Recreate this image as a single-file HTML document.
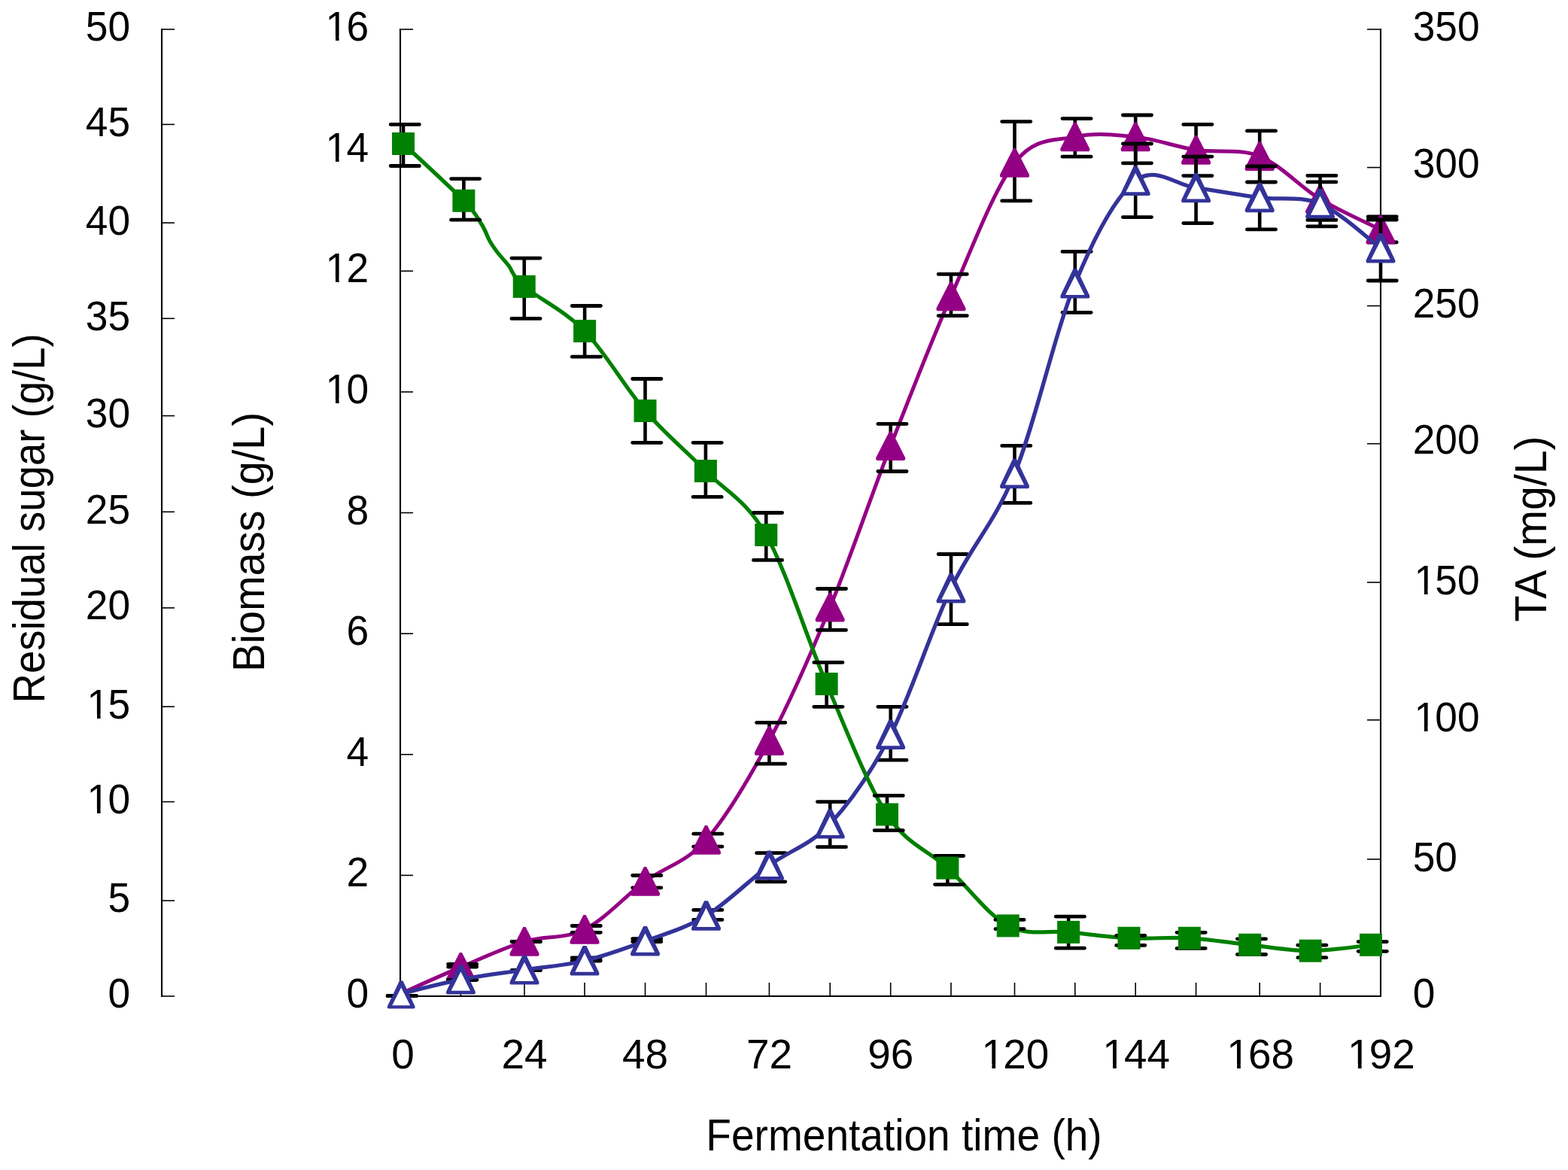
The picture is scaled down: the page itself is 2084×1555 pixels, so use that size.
<!DOCTYPE html>
<html><head><meta charset="utf-8"><title>Fermentation chart</title>
<style>html,body{margin:0;padding:0;background:#fff;}svg{display:block;}text{font-family:"Liberation Sans", Arial, sans-serif;font-size:53.8px;fill:#000;}.eb line{stroke:#000;stroke-width:4.6;stroke-linecap:butt;}.eb line.cap{stroke-width:4.8;stroke-linecap:round;}</style></head><body>
<svg width="2084" height="1555" viewBox="0 0 2084 1555">
<rect x="0" y="0" width="2084" height="1555" fill="#fff"/>
<g stroke="#000" fill="none">
<line x1="215" y1="38" x2="215" y2="1325" stroke-width="2.1"/>
<line x1="214" y1="39" x2="232" y2="39" stroke-width="1.6"/>
<line x1="214" y1="165.4" x2="232" y2="165.4" stroke-width="1.6"/>
<line x1="214" y1="296.2" x2="232" y2="296.2" stroke-width="1.6"/>
<line x1="214" y1="423.3" x2="232" y2="423.3" stroke-width="1.6"/>
<line x1="214" y1="552.6" x2="232" y2="552.6" stroke-width="1.6"/>
<line x1="214" y1="680.3" x2="232" y2="680.3" stroke-width="1.6"/>
<line x1="214" y1="807.9" x2="232" y2="807.9" stroke-width="1.6"/>
<line x1="214" y1="939.2" x2="232" y2="939.2" stroke-width="1.6"/>
<line x1="214" y1="1065.6" x2="232" y2="1065.6" stroke-width="1.6"/>
<line x1="214" y1="1197" x2="232" y2="1197" stroke-width="1.6"/>
<line x1="214" y1="1324" x2="232" y2="1324" stroke-width="1.6"/>
<line x1="532" y1="38" x2="532" y2="1325" stroke-width="2.1"/>
<line x1="531" y1="39" x2="549" y2="39" stroke-width="1.6"/>
<line x1="531" y1="199.62" x2="549" y2="199.62" stroke-width="1.6"/>
<line x1="531" y1="360.25" x2="549" y2="360.25" stroke-width="1.6"/>
<line x1="531" y1="520.88" x2="549" y2="520.88" stroke-width="1.6"/>
<line x1="531" y1="681.5" x2="549" y2="681.5" stroke-width="1.6"/>
<line x1="531" y1="842.12" x2="549" y2="842.12" stroke-width="1.6"/>
<line x1="531" y1="1002.75" x2="549" y2="1002.75" stroke-width="1.6"/>
<line x1="531" y1="1163.38" x2="549" y2="1163.38" stroke-width="1.6"/>
<line x1="531" y1="1324" x2="549" y2="1324" stroke-width="1.6"/>
<line x1="1835" y1="38" x2="1835" y2="1325" stroke-width="2.1"/>
<line x1="1817" y1="39" x2="1836" y2="39" stroke-width="1.6"/>
<line x1="1817" y1="222.6" x2="1836" y2="222.6" stroke-width="1.6"/>
<line x1="1817" y1="406.5" x2="1836" y2="406.5" stroke-width="1.6"/>
<line x1="1817" y1="589.7" x2="1836" y2="589.7" stroke-width="1.6"/>
<line x1="1817" y1="774" x2="1836" y2="774" stroke-width="1.6"/>
<line x1="1817" y1="956.9" x2="1836" y2="956.9" stroke-width="1.6"/>
<line x1="1817" y1="1142" x2="1836" y2="1142" stroke-width="1.6"/>
<line x1="1817" y1="1324" x2="1836" y2="1324" stroke-width="1.6"/>
<line x1="531" y1="1324" x2="1836" y2="1324" stroke-width="2.1"/>
<line x1="612.4" y1="1306" x2="612.4" y2="1324" stroke-width="1.6"/>
<line x1="697" y1="1306" x2="697" y2="1324" stroke-width="1.6"/>
<line x1="777" y1="1306" x2="777" y2="1324" stroke-width="1.6"/>
<line x1="857.5" y1="1306" x2="857.5" y2="1324" stroke-width="1.6"/>
<line x1="938.5" y1="1306" x2="938.5" y2="1324" stroke-width="1.6"/>
<line x1="1022.4" y1="1306" x2="1022.4" y2="1324" stroke-width="1.6"/>
<line x1="1103.2" y1="1306" x2="1103.2" y2="1324" stroke-width="1.6"/>
<line x1="1183.7" y1="1306" x2="1183.7" y2="1324" stroke-width="1.6"/>
<line x1="1264" y1="1306" x2="1264" y2="1324" stroke-width="1.6"/>
<line x1="1348.5" y1="1306" x2="1348.5" y2="1324" stroke-width="1.6"/>
<line x1="1428.8" y1="1306" x2="1428.8" y2="1324" stroke-width="1.6"/>
<line x1="1509.2" y1="1306" x2="1509.2" y2="1324" stroke-width="1.6"/>
<line x1="1589.6" y1="1306" x2="1589.6" y2="1324" stroke-width="1.6"/>
<line x1="1674.2" y1="1306" x2="1674.2" y2="1324" stroke-width="1.6"/>
<line x1="1754.6" y1="1306" x2="1754.6" y2="1324" stroke-width="1.6"/>
</g>
<g>
<g transform="translate(173,54.3) scale(0.99,1.035)">
<text x="-59.84" y="0">50</text>
</g>
<g transform="translate(173,180.7) scale(0.99,1.035)">
<text x="-59.84" y="0">45</text>
</g>
<g transform="translate(173,311.5) scale(0.99,1.035)">
<text x="-59.84" y="0">40</text>
</g>
<g transform="translate(173,438.6) scale(0.99,1.035)">
<text x="-59.84" y="0">35</text>
</g>
<g transform="translate(173,567.9) scale(0.99,1.035)">
<text x="-59.84" y="0">30</text>
</g>
<g transform="translate(173,695.6) scale(0.99,1.035)">
<text x="-59.84" y="0">25</text>
</g>
<g transform="translate(173,823.2) scale(0.99,1.035)">
<text x="-59.84" y="0">20</text>
</g>
<g transform="translate(173,954.5) scale(0.99,1.035)">
<text x="-59.84" y="0"><tspan dx="1.8">1</tspan><tspan dx="-1.8">5</tspan></text>
<rect x="-54.8" y="-5.32" width="10.34" height="6.32" fill="#fff"/>
<rect x="-39.81" y="-5.32" width="9.92" height="6.32" fill="#fff"/>
</g>
<g transform="translate(173,1080.9) scale(0.99,1.035)">
<text x="-59.84" y="0"><tspan dx="1.8">1</tspan><tspan dx="-1.8">0</tspan></text>
<rect x="-54.8" y="-5.32" width="10.34" height="6.32" fill="#fff"/>
<rect x="-39.81" y="-5.32" width="9.92" height="6.32" fill="#fff"/>
</g>
<g transform="translate(173,1212.3) scale(0.99,1.035)">
<text x="-29.92" y="0">5</text>
</g>
<g transform="translate(173,1339.3) scale(0.99,1.035)">
<text x="-29.92" y="0">0</text>
</g>
<g transform="translate(490,54) scale(0.99,1.035)">
<text x="-59.84" y="0"><tspan dx="1.8">1</tspan><tspan dx="-1.8">6</tspan></text>
<rect x="-54.8" y="-5.32" width="10.34" height="6.32" fill="#fff"/>
<rect x="-39.81" y="-5.32" width="9.92" height="6.32" fill="#fff"/>
</g>
<g transform="translate(490,214.62) scale(0.99,1.035)">
<text x="-59.84" y="0"><tspan dx="1.8">1</tspan><tspan dx="-1.8">4</tspan></text>
<rect x="-54.8" y="-5.32" width="10.34" height="6.32" fill="#fff"/>
<rect x="-39.81" y="-5.32" width="9.92" height="6.32" fill="#fff"/>
</g>
<g transform="translate(490,375.25) scale(0.99,1.035)">
<text x="-59.84" y="0"><tspan dx="1.8">1</tspan><tspan dx="-1.8">2</tspan></text>
<rect x="-54.8" y="-5.32" width="10.34" height="6.32" fill="#fff"/>
<rect x="-39.81" y="-5.32" width="9.92" height="6.32" fill="#fff"/>
</g>
<g transform="translate(490,535.88) scale(0.99,1.035)">
<text x="-59.84" y="0"><tspan dx="1.8">1</tspan><tspan dx="-1.8">0</tspan></text>
<rect x="-54.8" y="-5.32" width="10.34" height="6.32" fill="#fff"/>
<rect x="-39.81" y="-5.32" width="9.92" height="6.32" fill="#fff"/>
</g>
<g transform="translate(490,696.5) scale(0.99,1.035)">
<text x="-29.92" y="0">8</text>
</g>
<g transform="translate(490,857.12) scale(0.99,1.035)">
<text x="-29.92" y="0">6</text>
</g>
<g transform="translate(490,1017.75) scale(0.99,1.035)">
<text x="-29.92" y="0">4</text>
</g>
<g transform="translate(490,1178.38) scale(0.99,1.035)">
<text x="-29.92" y="0">2</text>
</g>
<g transform="translate(490,1339) scale(0.99,1.035)">
<text x="-29.92" y="0">0</text>
</g>
<g transform="translate(1877.7,54) scale(0.99,1.035)">
<text x="0" y="0">350</text>
</g>
<g transform="translate(1877.7,236.07) scale(0.99,1.035)">
<text x="0" y="0">300</text>
</g>
<g transform="translate(1877.7,422.34) scale(0.99,1.035)">
<text x="0" y="0">250</text>
</g>
<g transform="translate(1877.7,603.11) scale(0.99,1.035)">
<text x="0" y="0">200</text>
</g>
<g transform="translate(1877.7,789.68) scale(0.99,1.035)">
<text x="0" y="0"><tspan dx="1.8">1</tspan><tspan dx="-1.8">5</tspan>0</text>
<rect x="5.04" y="-5.32" width="10.34" height="6.32" fill="#fff"/>
<rect x="20.03" y="-5.32" width="9.92" height="6.32" fill="#fff"/>
</g>
<g transform="translate(1877.7,971.86) scale(0.99,1.035)">
<text x="0" y="0"><tspan dx="1.8">1</tspan><tspan dx="-1.8">0</tspan>0</text>
<rect x="5.04" y="-5.32" width="10.34" height="6.32" fill="#fff"/>
<rect x="20.03" y="-5.32" width="9.92" height="6.32" fill="#fff"/>
</g>
<g transform="translate(1877.7,1157.63) scale(0.99,1.035)">
<text x="0" y="0">50</text>
</g>
<g transform="translate(1877.7,1339) scale(0.99,1.035)">
<text x="0" y="0">0</text>
</g>
<g transform="translate(535.5,1419.5) scale(1.02,1.035)">
<text x="-14.96" y="0">0</text>
</g>
<g transform="translate(697,1419.5) scale(1.02,1.035)">
<text x="-29.92" y="0">24</text>
</g>
<g transform="translate(857.5,1419.5) scale(1.02,1.035)">
<text x="-29.92" y="0">48</text>
</g>
<g transform="translate(1022.4,1419.5) scale(1.02,1.035)">
<text x="-29.92" y="0">72</text>
</g>
<g transform="translate(1183.7,1419.5) scale(1.02,1.035)">
<text x="-29.92" y="0">96</text>
</g>
<g transform="translate(1348.5,1419.5) scale(1.02,1.035)">
<text x="-44.88" y="0"><tspan dx="1.8">1</tspan><tspan dx="-1.8">2</tspan>0</text>
<rect x="-39.84" y="-5.32" width="10.34" height="6.32" fill="#fff"/>
<rect x="-24.85" y="-5.32" width="9.92" height="6.32" fill="#fff"/>
</g>
<g transform="translate(1509.2,1419.5) scale(1.02,1.035)">
<text x="-44.88" y="0"><tspan dx="1.8">1</tspan><tspan dx="-1.8">4</tspan>4</text>
<rect x="-39.84" y="-5.32" width="10.34" height="6.32" fill="#fff"/>
<rect x="-24.85" y="-5.32" width="9.92" height="6.32" fill="#fff"/>
</g>
<g transform="translate(1674.2,1419.5) scale(1.02,1.035)">
<text x="-44.88" y="0"><tspan dx="1.8">1</tspan><tspan dx="-1.8">6</tspan>8</text>
<rect x="-39.84" y="-5.32" width="10.34" height="6.32" fill="#fff"/>
<rect x="-24.85" y="-5.32" width="9.92" height="6.32" fill="#fff"/>
</g>
<g transform="translate(1835,1419.5) scale(1.02,1.035)">
<text x="-44.88" y="0"><tspan dx="1.8">1</tspan><tspan dx="-1.8">9</tspan>2</text>
<rect x="-39.84" y="-5.32" width="10.34" height="6.32" fill="#fff"/>
<rect x="-24.85" y="-5.32" width="9.92" height="6.32" fill="#fff"/>
</g>
</g>
<text transform="translate(1201.5,1528.8) scale(1.0237,1.087)" text-anchor="middle">Fermentation time (h)</text>
<text transform="translate(59,688.9) rotate(-90) scale(1.0143,1.087)" text-anchor="middle">Residual sugar (g/L)</text>
<text transform="translate(351,720.4) rotate(-90) scale(1.0395,1.087)" text-anchor="middle">Biomass (g/L)</text>
<text transform="translate(2055,702.9) rotate(-90) scale(1.065,1.087)" text-anchor="middle">TA (mg/L)</text>
<path d="M532,1320.8 C545.4,1314.9 584.9,1296.98 612.4,1285.4 C639.9,1273.82 669.57,1259.65 697,1251.3 C724.43,1242.95 750.25,1248.63 777,1235.3 C803.75,1221.97 830.58,1191.13 857.5,1171.3 C884.42,1151.47 911.02,1147.43 938.5,1116.3 C965.98,1085.17 994.95,1036.03 1022.4,984.5 C1049.85,932.97 1076.32,872.42 1103.2,807.1 C1130.08,741.78 1156.9,661.48 1183.7,592.6 C1210.5,523.72 1236.53,456.5 1264,393.8 C1291.47,331.1 1321.03,251.72 1348.5,216.4 C1375.97,181.08 1402.02,187.65 1428.8,181.9 C1455.58,176.15 1482.4,179 1509.2,181.9 C1536,184.8 1562.1,195 1589.6,199.3 C1617.1,203.6 1646.7,196.8 1674.2,207.7 C1701.7,218.6 1727.8,248.47 1754.6,264.7 C1781.4,280.93 1821.6,298.37 1835,305.1" fill="none" stroke="#940084" stroke-width="5" stroke-linejoin="round"/>
<g class="eb">
<line class="cap" x1="515.2" y1="1323.7" x2="553.3" y2="1323.7"/>
<line class="cap" x1="515.2" y1="1323.7" x2="553.3" y2="1323.7"/>
<line x1="612.4" y1="1281.4" x2="612.4" y2="1285.1"/>
<line class="cap" x1="595.6" y1="1281.4" x2="633.7" y2="1281.4"/>
<line class="cap" x1="595.6" y1="1285.1" x2="633.7" y2="1285.1"/>
<line class="cap" x1="680.2" y1="1251.5" x2="718.3" y2="1251.5"/>
<line class="cap" x1="680.2" y1="1251.5" x2="718.3" y2="1251.5"/>
<line x1="777" y1="1230.5" x2="777" y2="1239.3"/>
<line class="cap" x1="760.2" y1="1230.5" x2="798.3" y2="1230.5"/>
<line class="cap" x1="760.2" y1="1239.3" x2="798.3" y2="1239.3"/>
<line x1="857.5" y1="1163.5" x2="857.5" y2="1179.8"/>
<line class="cap" x1="840.7" y1="1163.5" x2="878.8" y2="1163.5"/>
<line class="cap" x1="840.7" y1="1179.8" x2="878.8" y2="1179.8"/>
<line x1="938.5" y1="1108.2" x2="938.5" y2="1125.2"/>
<line class="cap" x1="921.7" y1="1108.2" x2="959.8" y2="1108.2"/>
<line class="cap" x1="921.7" y1="1125.2" x2="959.8" y2="1125.2"/>
<line x1="1022.4" y1="960.4" x2="1022.4" y2="1015.1"/>
<line class="cap" x1="1005.6" y1="960.4" x2="1043.7" y2="960.4"/>
<line class="cap" x1="1005.6" y1="1015.1" x2="1043.7" y2="1015.1"/>
<line x1="1103.2" y1="782.5" x2="1103.2" y2="837.4"/>
<line class="cap" x1="1086.4" y1="782.5" x2="1124.5" y2="782.5"/>
<line class="cap" x1="1086.4" y1="837.4" x2="1124.5" y2="837.4"/>
<line x1="1183.7" y1="563.4" x2="1183.7" y2="626.5"/>
<line class="cap" x1="1166.9" y1="563.4" x2="1205" y2="563.4"/>
<line class="cap" x1="1166.9" y1="626.5" x2="1205" y2="626.5"/>
<line x1="1264" y1="364.4" x2="1264" y2="419.6"/>
<line class="cap" x1="1247.2" y1="364.4" x2="1285.3" y2="364.4"/>
<line class="cap" x1="1247.2" y1="419.6" x2="1285.3" y2="419.6"/>
<line x1="1348.5" y1="161.6" x2="1348.5" y2="266.9"/>
<line class="cap" x1="1331.7" y1="161.6" x2="1369.8" y2="161.6"/>
<line class="cap" x1="1331.7" y1="266.9" x2="1369.8" y2="266.9"/>
<line x1="1428.8" y1="157.6" x2="1428.8" y2="208.2"/>
<line class="cap" x1="1412" y1="157.6" x2="1450.1" y2="157.6"/>
<line class="cap" x1="1412" y1="208.2" x2="1450.1" y2="208.2"/>
<line x1="1509.2" y1="153" x2="1509.2" y2="216.8"/>
<line class="cap" x1="1492.4" y1="153" x2="1530.5" y2="153"/>
<line class="cap" x1="1492.4" y1="216.8" x2="1530.5" y2="216.8"/>
<line x1="1589.6" y1="165.4" x2="1589.6" y2="233.6"/>
<line class="cap" x1="1572.8" y1="165.4" x2="1610.9" y2="165.4"/>
<line class="cap" x1="1572.8" y1="233.6" x2="1610.9" y2="233.6"/>
<line x1="1674.2" y1="173.9" x2="1674.2" y2="242"/>
<line class="cap" x1="1657.4" y1="173.9" x2="1695.5" y2="173.9"/>
<line class="cap" x1="1657.4" y1="242" x2="1695.5" y2="242"/>
<line x1="1754.6" y1="233.4" x2="1754.6" y2="292.4"/>
<line class="cap" x1="1737.8" y1="233.4" x2="1775.9" y2="233.4"/>
<line class="cap" x1="1737.8" y1="292.4" x2="1775.9" y2="292.4"/>
<line x1="1835" y1="288" x2="1835" y2="322"/>
<line class="cap" x1="1818.2" y1="288" x2="1856.3" y2="288"/>
<line class="cap" x1="1818.2" y1="322" x2="1856.3" y2="322"/>
</g>
<g fill="#940084">
<polygon points="610.8,1266 614,1266 631.85,1301 631.85,1303.4 630.6,1304.8 594.2,1304.8 592.95,1303.4 592.95,1301"/>
<polygon points="695.4,1231.9 698.6,1231.9 716.45,1266.9 716.45,1269.3 715.2,1270.7 678.8,1270.7 677.55,1269.3 677.55,1266.9"/>
<polygon points="775.4,1215.9 778.6,1215.9 796.45,1250.9 796.45,1253.3 795.2,1254.7 758.8,1254.7 757.55,1253.3 757.55,1250.9"/>
<polygon points="855.9,1151.9 859.1,1151.9 876.95,1186.9 876.95,1189.3 875.7,1190.7 839.3,1190.7 838.05,1189.3 838.05,1186.9"/>
<polygon points="936.9,1096.9 940.1,1096.9 957.95,1131.9 957.95,1134.3 956.7,1135.7 920.3,1135.7 919.05,1134.3 919.05,1131.9"/>
<polygon points="1020.8,965.1 1024,965.1 1041.85,1000.1 1041.85,1002.5 1040.6,1003.9 1004.2,1003.9 1002.95,1002.5 1002.95,1000.1"/>
<polygon points="1101.6,787.7 1104.8,787.7 1122.65,822.7 1122.65,825.1 1121.4,826.5 1085,826.5 1083.75,825.1 1083.75,822.7"/>
<polygon points="1182.1,573.2 1185.3,573.2 1203.15,608.2 1203.15,610.6 1201.9,612 1165.5,612 1164.25,610.6 1164.25,608.2"/>
<polygon points="1262.4,374.4 1265.6,374.4 1283.45,409.4 1283.45,411.8 1282.2,413.2 1245.8,413.2 1244.55,411.8 1244.55,409.4"/>
<polygon points="1346.9,197 1350.1,197 1367.95,232 1367.95,234.4 1366.7,235.8 1330.3,235.8 1329.05,234.4 1329.05,232"/>
<polygon points="1427.2,162.5 1430.4,162.5 1448.25,197.5 1448.25,199.9 1447,201.3 1410.6,201.3 1409.35,199.9 1409.35,197.5"/>
<polygon points="1507.6,162.5 1510.8,162.5 1528.65,197.5 1528.65,199.9 1527.4,201.3 1491,201.3 1489.75,199.9 1489.75,197.5"/>
<polygon points="1588,179.9 1591.2,179.9 1609.05,214.9 1609.05,217.3 1607.8,218.7 1571.4,218.7 1570.15,217.3 1570.15,214.9"/>
<polygon points="1672.6,188.3 1675.8,188.3 1693.65,223.3 1693.65,225.7 1692.4,227.1 1656,227.1 1654.75,225.7 1654.75,223.3"/>
<polygon points="1753,245.3 1756.2,245.3 1774.05,280.3 1774.05,282.7 1772.8,284.1 1736.4,284.1 1735.15,282.7 1735.15,280.3"/>
<polygon points="1833.4,285.7 1836.6,285.7 1854.45,320.7 1854.45,323.1 1853.2,324.5 1816.8,324.5 1815.55,323.1 1815.55,320.7"/>
</g>
<g class="eb">
<line class="cap" x1="515.2" y1="1323.7" x2="553.3" y2="1323.7"/>
<line class="cap" x1="515.2" y1="1323.7" x2="553.3" y2="1323.7"/>
<line class="cap" x1="595.6" y1="1302.3" x2="633.7" y2="1302.3"/>
<line class="cap" x1="595.6" y1="1302.3" x2="633.7" y2="1302.3"/>
<line class="cap" x1="680.2" y1="1289.7" x2="718.3" y2="1289.7"/>
<line class="cap" x1="680.2" y1="1289.7" x2="718.3" y2="1289.7"/>
<line x1="777" y1="1273" x2="777" y2="1277"/>
<line class="cap" x1="760.2" y1="1273" x2="798.3" y2="1273"/>
<line class="cap" x1="760.2" y1="1277" x2="798.3" y2="1277"/>
<line x1="857.5" y1="1247.7" x2="857.5" y2="1251.5"/>
<line class="cap" x1="840.7" y1="1247.7" x2="878.8" y2="1247.7"/>
<line class="cap" x1="840.7" y1="1251.5" x2="878.8" y2="1251.5"/>
<line x1="938.5" y1="1209.4" x2="938.5" y2="1222.4"/>
<line class="cap" x1="921.7" y1="1209.4" x2="959.8" y2="1209.4"/>
<line class="cap" x1="921.7" y1="1222.4" x2="959.8" y2="1222.4"/>
<line x1="1022.4" y1="1133.7" x2="1022.4" y2="1171.8"/>
<line class="cap" x1="1005.6" y1="1133.7" x2="1043.7" y2="1133.7"/>
<line class="cap" x1="1005.6" y1="1171.8" x2="1043.7" y2="1171.8"/>
<line x1="1103.2" y1="1065.6" x2="1103.2" y2="1125.7"/>
<line class="cap" x1="1086.4" y1="1065.6" x2="1124.5" y2="1065.6"/>
<line class="cap" x1="1086.4" y1="1125.7" x2="1124.5" y2="1125.7"/>
<line x1="1183.7" y1="939.3" x2="1183.7" y2="1010.2"/>
<line class="cap" x1="1166.9" y1="939.3" x2="1205" y2="939.3"/>
<line class="cap" x1="1166.9" y1="1010.2" x2="1205" y2="1010.2"/>
<line x1="1264" y1="736.5" x2="1264" y2="829.7"/>
<line class="cap" x1="1247.2" y1="736.5" x2="1285.3" y2="736.5"/>
<line class="cap" x1="1247.2" y1="829.7" x2="1285.3" y2="829.7"/>
<line x1="1348.5" y1="592.4" x2="1348.5" y2="668.4"/>
<line class="cap" x1="1331.7" y1="592.4" x2="1369.8" y2="592.4"/>
<line class="cap" x1="1331.7" y1="668.4" x2="1369.8" y2="668.4"/>
<line x1="1428.8" y1="334.4" x2="1428.8" y2="415.3"/>
<line class="cap" x1="1412" y1="334.4" x2="1450.1" y2="334.4"/>
<line class="cap" x1="1412" y1="415.3" x2="1450.1" y2="415.3"/>
<line x1="1509.2" y1="191" x2="1509.2" y2="288.6"/>
<line class="cap" x1="1492.4" y1="191" x2="1530.5" y2="191"/>
<line class="cap" x1="1492.4" y1="288.6" x2="1530.5" y2="288.6"/>
<line x1="1589.6" y1="208.1" x2="1589.6" y2="296.6"/>
<line class="cap" x1="1572.8" y1="208.1" x2="1610.9" y2="208.1"/>
<line class="cap" x1="1572.8" y1="296.6" x2="1610.9" y2="296.6"/>
<line x1="1674.2" y1="221" x2="1674.2" y2="304.9"/>
<line class="cap" x1="1657.4" y1="221" x2="1695.5" y2="221"/>
<line class="cap" x1="1657.4" y1="304.9" x2="1695.5" y2="304.9"/>
<line x1="1754.6" y1="241.9" x2="1754.6" y2="300.9"/>
<line class="cap" x1="1737.8" y1="241.9" x2="1775.9" y2="241.9"/>
<line class="cap" x1="1737.8" y1="300.9" x2="1775.9" y2="300.9"/>
<line x1="1835" y1="292" x2="1835" y2="373"/>
<line class="cap" x1="1818.2" y1="292" x2="1856.3" y2="292"/>
<line class="cap" x1="1818.2" y1="373" x2="1856.3" y2="373"/>
</g>
<path d="M532,1321 C545.4,1317.82 584.9,1307.23 612.4,1301.9 C639.9,1296.57 669.57,1293.17 697,1289 C724.43,1284.83 750.25,1283.27 777,1276.9 C803.75,1270.53 830.58,1260.77 857.5,1250.8 C884.42,1240.83 911.02,1233.87 938.5,1217.1 C965.98,1200.33 994.95,1170.55 1022.4,1150.2 C1049.85,1129.85 1076.32,1123.97 1103.2,1095 C1130.08,1066.03 1156.9,1028.58 1183.7,976.4 C1210.5,924.22 1236.53,839.7 1264,781.9 C1291.47,724.1 1321.03,697.08 1348.5,629.6 C1375.97,562.12 1402.02,441.87 1428.8,377 C1455.58,312.13 1482.4,261.62 1509.2,240.4 C1536,219.18 1562.1,246 1589.6,249.7 C1617.1,253.4 1646.7,259.07 1674.2,262.6 C1701.7,266.13 1727.8,259.68 1754.6,270.9 C1781.4,282.12 1821.6,320.07 1835,329.9" fill="none" stroke="#333399" stroke-width="5.3" stroke-linejoin="round"/>
<polygon points="530.94,1303.56 535.46,1303.56 551.44,1337.22 551.44,1339.28 550.31,1340.6 516.09,1340.6 514.96,1339.28 514.96,1337.22" fill="#333399"/>
<polygon points="533.2,1312.49 545.14,1336.18 521.26,1336.18" fill="#fff"/>
<polygon points="610,1282.1 614.8,1282.1 631.8,1317.9 631.8,1320.1 630.6,1321.5 594.2,1321.5 593,1320.1 593,1317.9" fill="#333399"/>
<polygon points="612.4,1291.6 625.1,1316.8 599.7,1316.8" fill="#fff"/>
<polygon points="694.6,1269.2 699.4,1269.2 716.4,1305 716.4,1307.2 715.2,1308.6 678.8,1308.6 677.6,1307.2 677.6,1305" fill="#333399"/>
<polygon points="697,1278.7 709.7,1303.9 684.3,1303.9" fill="#fff"/>
<polygon points="774.6,1257.1 779.4,1257.1 796.4,1292.9 796.4,1295.1 795.2,1296.5 758.8,1296.5 757.6,1295.1 757.6,1292.9" fill="#333399"/>
<polygon points="777,1266.6 789.7,1291.8 764.3,1291.8" fill="#fff"/>
<polygon points="855.1,1231 859.9,1231 876.9,1266.8 876.9,1269 875.7,1270.4 839.3,1270.4 838.1,1269 838.1,1266.8" fill="#333399"/>
<polygon points="857.5,1240.5 870.2,1265.7 844.8,1265.7" fill="#fff"/>
<polygon points="936.1,1197.3 940.9,1197.3 957.9,1233.1 957.9,1235.3 956.7,1236.7 920.3,1236.7 919.1,1235.3 919.1,1233.1" fill="#333399"/>
<polygon points="938.5,1206.8 951.2,1232 925.8,1232" fill="#fff"/>
<polygon points="1020,1130.4 1024.8,1130.4 1041.8,1166.2 1041.8,1168.4 1040.6,1169.8 1004.2,1169.8 1003,1168.4 1003,1166.2" fill="#333399"/>
<polygon points="1022.4,1139.9 1035.1,1165.1 1009.7,1165.1" fill="#fff"/>
<polygon points="1100.8,1075.2 1105.6,1075.2 1122.6,1111 1122.6,1113.2 1121.4,1114.6 1085,1114.6 1083.8,1113.2 1083.8,1111" fill="#333399"/>
<polygon points="1103.2,1084.7 1115.9,1109.9 1090.5,1109.9" fill="#fff"/>
<polygon points="1181.3,956.6 1186.1,956.6 1203.1,992.4 1203.1,994.6 1201.9,996 1165.5,996 1164.3,994.6 1164.3,992.4" fill="#333399"/>
<polygon points="1183.7,966.1 1196.4,991.3 1171,991.3" fill="#fff"/>
<polygon points="1261.6,762.1 1266.4,762.1 1283.4,797.9 1283.4,800.1 1282.2,801.5 1245.8,801.5 1244.6,800.1 1244.6,797.9" fill="#333399"/>
<polygon points="1264,771.6 1276.7,796.8 1251.3,796.8" fill="#fff"/>
<polygon points="1346.1,609.8 1350.9,609.8 1367.9,645.6 1367.9,647.8 1366.7,649.2 1330.3,649.2 1329.1,647.8 1329.1,645.6" fill="#333399"/>
<polygon points="1348.5,619.3 1361.2,644.5 1335.8,644.5" fill="#fff"/>
<polygon points="1426.4,357.2 1431.2,357.2 1448.2,393 1448.2,395.2 1447,396.6 1410.6,396.6 1409.4,395.2 1409.4,393" fill="#333399"/>
<polygon points="1428.8,366.7 1441.5,391.9 1416.1,391.9" fill="#fff"/>
<polygon points="1506.8,220.6 1511.6,220.6 1528.6,256.4 1528.6,258.6 1527.4,260 1491,260 1489.8,258.6 1489.8,256.4" fill="#333399"/>
<polygon points="1509.2,230.1 1521.9,255.3 1496.5,255.3" fill="#fff"/>
<polygon points="1587.2,229.9 1592,229.9 1609,265.7 1609,267.9 1607.8,269.3 1571.4,269.3 1570.2,267.9 1570.2,265.7" fill="#333399"/>
<polygon points="1589.6,239.4 1602.3,264.6 1576.9,264.6" fill="#fff"/>
<polygon points="1671.8,242.8 1676.6,242.8 1693.6,278.6 1693.6,280.8 1692.4,282.2 1656,282.2 1654.8,280.8 1654.8,278.6" fill="#333399"/>
<polygon points="1674.2,252.3 1686.9,277.5 1661.5,277.5" fill="#fff"/>
<polygon points="1752.2,251.1 1757,251.1 1774,286.9 1774,289.1 1772.8,290.5 1736.4,290.5 1735.2,289.1 1735.2,286.9" fill="#333399"/>
<polygon points="1754.6,260.6 1767.3,285.8 1741.9,285.8" fill="#fff"/>
<polygon points="1832.6,310.1 1837.4,310.1 1854.4,345.9 1854.4,348.1 1853.2,349.5 1816.8,349.5 1815.6,348.1 1815.6,345.9" fill="#333399"/>
<polygon points="1835,319.6 1847.7,344.8 1822.3,344.8" fill="#fff"/>
<path d="M536,191 C549.4,203.63 599.04,248.97 616.38,266.8 C633.71,284.63 634.23,289.05 640,298 C645.77,306.95 647.33,314.08 651,320.5 C654.67,326.92 657.83,331.08 662,336.5 C666.17,341.92 670.21,345.6 676,353 C681.79,360.4 679.9,366.4 696.75,380.9 C713.6,395.4 750.33,412.48 777.12,440 C803.92,467.52 830.71,515 857.5,546 C884.29,577 911.08,598.5 937.88,626 C964.67,653.5 991.46,663.83 1018.25,711 C1045.04,758.17 1071.83,847.08 1098.62,909 C1125.42,970.92 1152.21,1041.73 1179,1082.5 C1205.79,1123.27 1232.58,1128.95 1259.38,1153.6 C1286.17,1178.25 1312.96,1216.18 1339.75,1230.4 C1366.54,1244.62 1393.33,1236.17 1420.12,1238.9 C1446.92,1241.63 1473.71,1245.48 1500.5,1246.8 C1527.29,1248.12 1554.08,1245.3 1580.88,1246.8 C1607.67,1248.3 1634.46,1252.98 1661.25,1255.8 C1688.04,1258.62 1714.83,1263.7 1741.62,1263.7 C1768.42,1263.7 1808.6,1257.12 1822,1255.8" fill="none" stroke="#008000" stroke-width="5.2" stroke-linejoin="round"/>
<g class="eb">
<line x1="536" y1="165.4" x2="536" y2="220.5"/>
<line class="cap" x1="519.2" y1="165.4" x2="557.3" y2="165.4"/>
<line class="cap" x1="519.2" y1="220.5" x2="557.3" y2="220.5"/>
<line x1="616.38" y1="237.6" x2="616.38" y2="292.2"/>
<line class="cap" x1="599.58" y1="237.6" x2="637.67" y2="237.6"/>
<line class="cap" x1="599.58" y1="292.2" x2="637.67" y2="292.2"/>
<line x1="696.75" y1="343.1" x2="696.75" y2="423.4"/>
<line class="cap" x1="679.95" y1="343.1" x2="718.05" y2="343.1"/>
<line class="cap" x1="679.95" y1="423.4" x2="718.05" y2="423.4"/>
<line x1="777.12" y1="406.5" x2="777.12" y2="474.2"/>
<line class="cap" x1="760.33" y1="406.5" x2="798.42" y2="406.5"/>
<line class="cap" x1="760.33" y1="474.2" x2="798.42" y2="474.2"/>
<line x1="857.5" y1="503.5" x2="857.5" y2="588.3"/>
<line class="cap" x1="840.7" y1="503.5" x2="878.8" y2="503.5"/>
<line class="cap" x1="840.7" y1="588.3" x2="878.8" y2="588.3"/>
<line x1="937.88" y1="588.3" x2="937.88" y2="660.4"/>
<line class="cap" x1="921.08" y1="588.3" x2="959.17" y2="588.3"/>
<line class="cap" x1="921.08" y1="660.4" x2="959.17" y2="660.4"/>
<line x1="1018.25" y1="681.5" x2="1018.25" y2="744.4"/>
<line class="cap" x1="1001.45" y1="681.5" x2="1039.55" y2="681.5"/>
<line class="cap" x1="1001.45" y1="744.4" x2="1039.55" y2="744.4"/>
<line x1="1098.62" y1="880.4" x2="1098.62" y2="939.3"/>
<line class="cap" x1="1081.83" y1="880.4" x2="1119.92" y2="880.4"/>
<line class="cap" x1="1081.83" y1="939.3" x2="1119.92" y2="939.3"/>
<line x1="1179" y1="1057.4" x2="1179" y2="1103.7"/>
<line class="cap" x1="1162.2" y1="1057.4" x2="1200.3" y2="1057.4"/>
<line class="cap" x1="1162.2" y1="1103.7" x2="1200.3" y2="1103.7"/>
<line x1="1259.38" y1="1137.5" x2="1259.38" y2="1175.6"/>
<line class="cap" x1="1242.58" y1="1137.5" x2="1280.67" y2="1137.5"/>
<line class="cap" x1="1242.58" y1="1175.6" x2="1280.67" y2="1175.6"/>
<line x1="1339.75" y1="1222.4" x2="1339.75" y2="1234.7"/>
<line class="cap" x1="1322.95" y1="1222.4" x2="1361.05" y2="1222.4"/>
<line class="cap" x1="1322.95" y1="1234.7" x2="1361.05" y2="1234.7"/>
<line x1="1420.12" y1="1218.2" x2="1420.12" y2="1260.2"/>
<line class="cap" x1="1403.33" y1="1218.2" x2="1441.42" y2="1218.2"/>
<line class="cap" x1="1403.33" y1="1260.2" x2="1441.42" y2="1260.2"/>
<line x1="1500.5" y1="1243.3" x2="1500.5" y2="1256.4"/>
<line class="cap" x1="1483.7" y1="1243.3" x2="1521.8" y2="1243.3"/>
<line class="cap" x1="1483.7" y1="1256.4" x2="1521.8" y2="1256.4"/>
<line x1="1580.88" y1="1239.3" x2="1580.88" y2="1260.4"/>
<line class="cap" x1="1564.08" y1="1239.3" x2="1602.17" y2="1239.3"/>
<line class="cap" x1="1564.08" y1="1260.4" x2="1602.17" y2="1260.4"/>
<line x1="1661.25" y1="1247.8" x2="1661.25" y2="1268.5"/>
<line class="cap" x1="1644.45" y1="1247.8" x2="1682.55" y2="1247.8"/>
<line class="cap" x1="1644.45" y1="1268.5" x2="1682.55" y2="1268.5"/>
<line x1="1741.62" y1="1256.2" x2="1741.62" y2="1272.7"/>
<line class="cap" x1="1724.83" y1="1256.2" x2="1762.92" y2="1256.2"/>
<line class="cap" x1="1724.83" y1="1272.7" x2="1762.92" y2="1272.7"/>
<line x1="1822" y1="1251.6" x2="1822" y2="1264.3"/>
<line class="cap" x1="1805.2" y1="1251.6" x2="1843.3" y2="1251.6"/>
<line class="cap" x1="1805.2" y1="1264.3" x2="1843.3" y2="1264.3"/>
</g>
<g fill="#008000">
<rect x="521" y="176" width="30" height="30"/>
<rect x="601.38" y="251.8" width="30" height="30"/>
<rect x="681.75" y="365.9" width="30" height="30"/>
<rect x="762.12" y="425" width="30" height="30"/>
<rect x="842.5" y="531" width="30" height="30"/>
<rect x="922.88" y="611" width="30" height="30"/>
<rect x="1003.25" y="696" width="30" height="30"/>
<rect x="1083.62" y="894" width="30" height="30"/>
<rect x="1164" y="1067.5" width="30" height="30"/>
<rect x="1244.38" y="1138.6" width="30" height="30"/>
<rect x="1324.75" y="1215.4" width="30" height="30"/>
<rect x="1405.12" y="1223.9" width="30" height="30"/>
<rect x="1485.5" y="1231.8" width="30" height="30"/>
<rect x="1565.88" y="1231.8" width="30" height="30"/>
<rect x="1646.25" y="1240.8" width="30" height="30"/>
<rect x="1726.62" y="1248.7" width="30" height="30"/>
<rect x="1807" y="1240.8" width="30" height="30"/>
</g>
</svg></body></html>
